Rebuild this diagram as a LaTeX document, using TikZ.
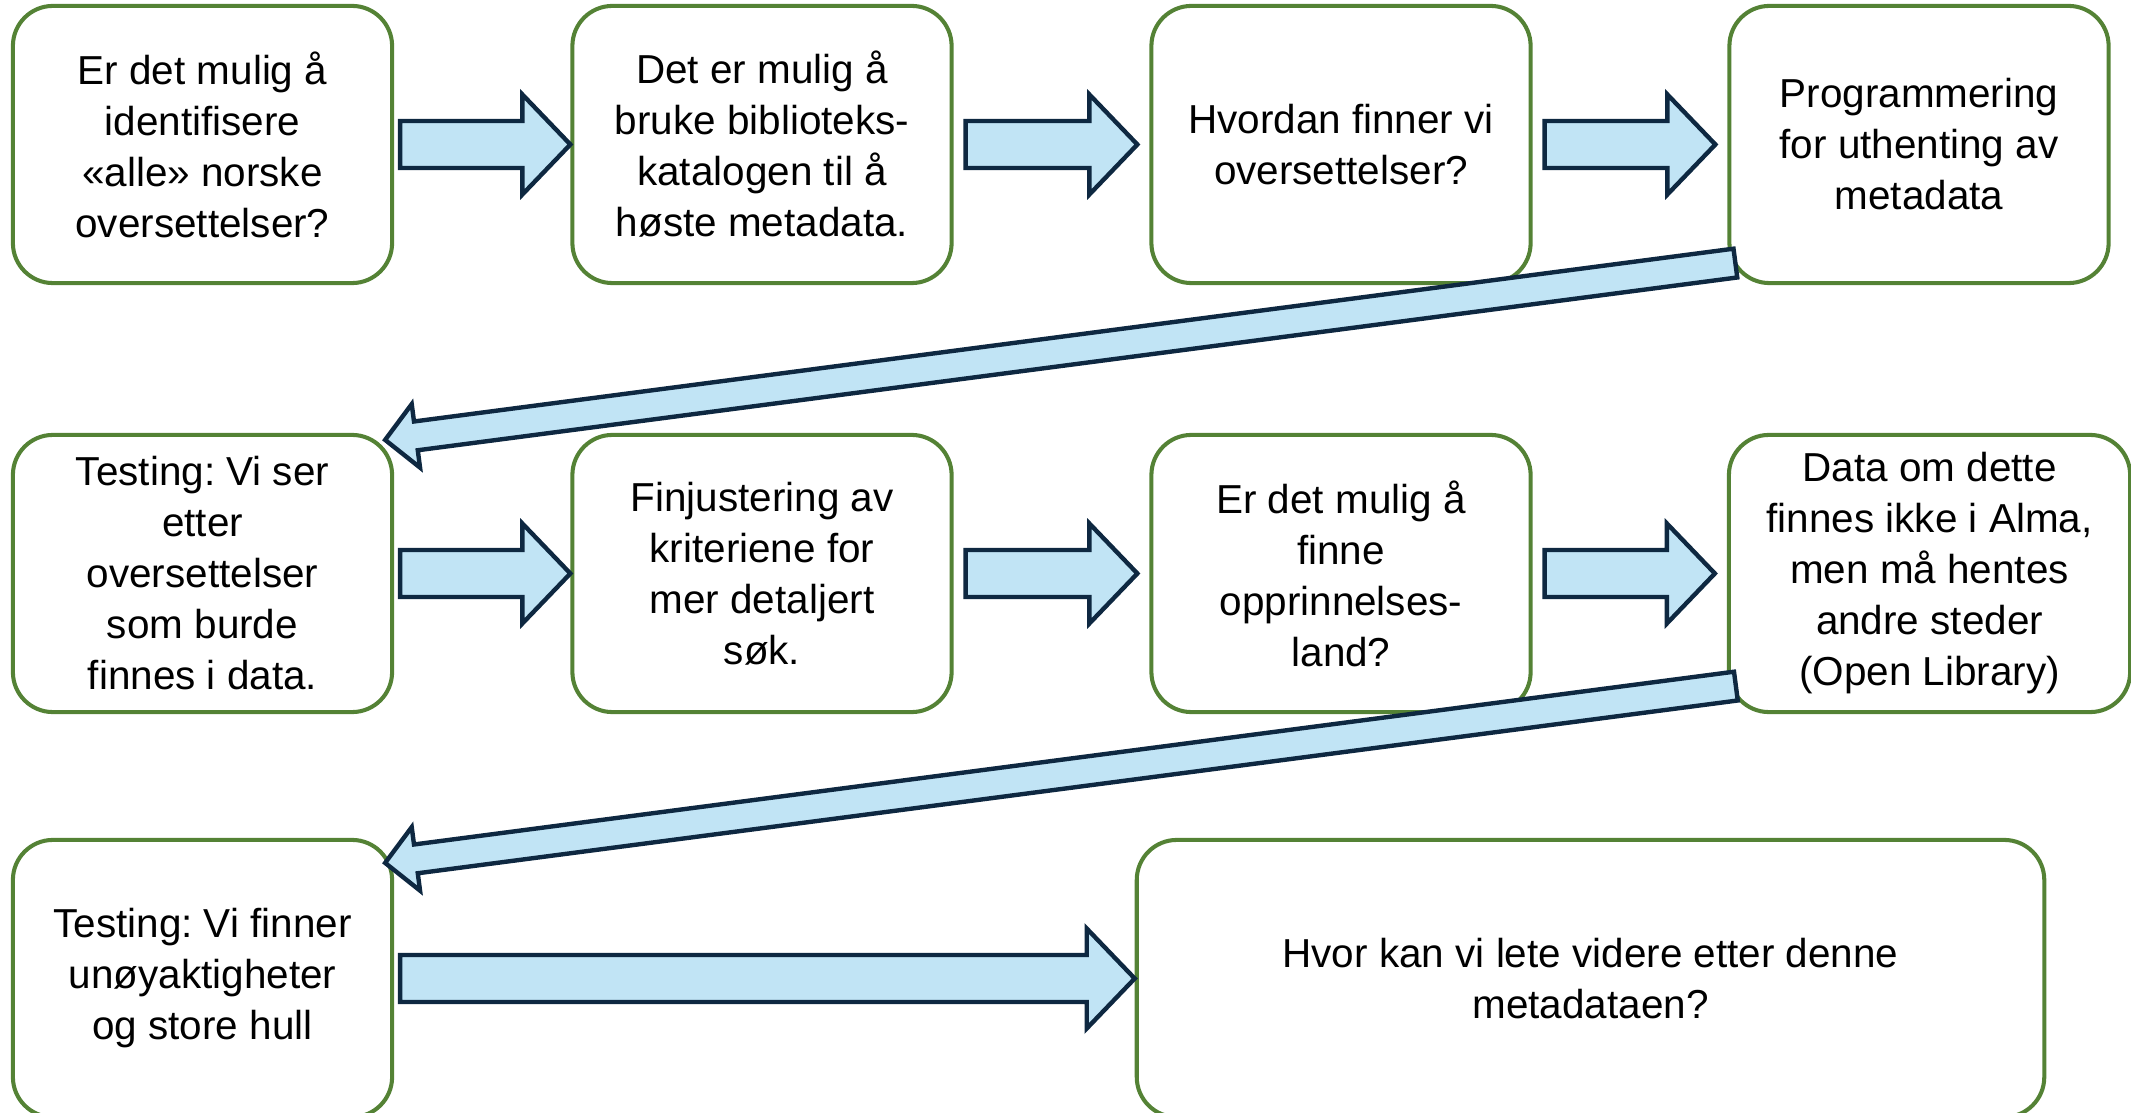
\documentclass[tikz,border=0pt]{standalone}
\usepackage{fontspec}
\setmainfont{Liberation Sans}
\usetikzlibrary{calc,positioning}
\frenchspacing

\definecolor{boxgreen}{RGB}{84,130,53}
\definecolor{arrowfill}{RGB}{193,228,245}
\definecolor{arrowline}{RGB}{14,40,65}

% fat arrow: tail, tip, shaft half width, head half width, head length
\newcommand{\blockarrow}[5]{%
	\coordinate (hb) at ($(#2)!#5!(#1)$);
	\draw[arrowbody] ($(#1)!#3!90:(#2)$) -- ($(hb)!#3!90:(#2)$)
		-- ($(hb)!#4!90:(#2)$) -- (#2) -- ($(hb)!#4!-90:(#2)$)
		-- ($(hb)!#3!-90:(#2)$) -- ($(#1)!#3!-90:(#2)$) -- cycle;
}

\begin{document}
\begin{tikzpicture}[
x=0.01cm,y=-0.01cm,
stepbox/.style={
	draw=boxgreen,
	line width=1.15pt,
	fill=white,
	rounded corners=0.4cm,
	minimum width=3.79cm,
	minimum height=2.77cm,
	align=center,
	font=\fontsize{11.5pt}{14.5pt}\selectfont
},
arrowbody/.style={
	draw=arrowline,
	fill=arrowfill,
	line width=1.25pt,
	line join=miter
}
]
\useasboundingbox (0,0) rectangle (2131,1113);

\node[stepbox] (p1) at (202.5,144.5) {Er det mulig å\\identifisere\\«alle» norske\\oversettelser?};
\node[stepbox] (p2) at (762,144.5) {Det er mulig å\\bruke biblioteks-\\katalogen til å\\høste metadata.};
\node[stepbox] (p3) at (1341,144.5) {Hvordan finner vi\\oversettelser?};
\node[stepbox] (p4) at (1919,144.5) {Programmering\\for uthenting av\\metadata};

\node[stepbox] (p5) at (202.5,573.5) {Testing: Vi ser\\etter\\oversettelser\\som burde\\finnes i data.};
\node[stepbox] (p6) at (762,573.5) {Finjustering av\\kriteriene for\\mer detaljert\\søk.};
\node[stepbox] (p7) at (1341,573.5) {Er det mulig å\\finne\\opprinnelses-\\land?};
\node[stepbox,minimum width=4.01cm] (p8) at (1929.5,573.5) {Data om dette\\finnes ikke i Alma,\\men må hentes\\andre steder\\(Open Library)};

\node[stepbox] (p9) at (202.5,978.5) {Testing: Vi finner\\unøyaktigheter\\og store hull};
\node[stepbox,minimum width=9.07cm] (p10) at (1590.5,978.5) {Hvor kan vi lete videre etter denne\\metadataen?};

\foreach \a/\b/\g/\h in {p1/p2/6/0,p2/p3/12/12,p3/p4/12/12,p5/p6/6/0,p6/p7/12/12,p7/p8/12/12,p9/p10/6/0}{
	\coordinate (tail) at ($(\a.east)+(\g,0)$);
	\coordinate (tip) at ($(\b.west)-(\h,0)$);
	\blockarrow{tail}{tip}{0.235cm}{0.5cm}{0.48cm}
}

\coordinate (backA) at ($(p4.south west)+(8,-22)$);
\coordinate (backAtip) at ($(p5.north east)+(-9,7)$);
\blockarrow{backA}{backAtip}{0.145cm}{0.32cm}{0.31cm}

\coordinate (backB) at ($(p8.south west)+(9,-28)$);
\coordinate (backBtip) at ($(p9.north east)+(-9,25)$);
\blockarrow{backB}{backBtip}{0.145cm}{0.32cm}{0.31cm}
\end{tikzpicture}
\end{document}
